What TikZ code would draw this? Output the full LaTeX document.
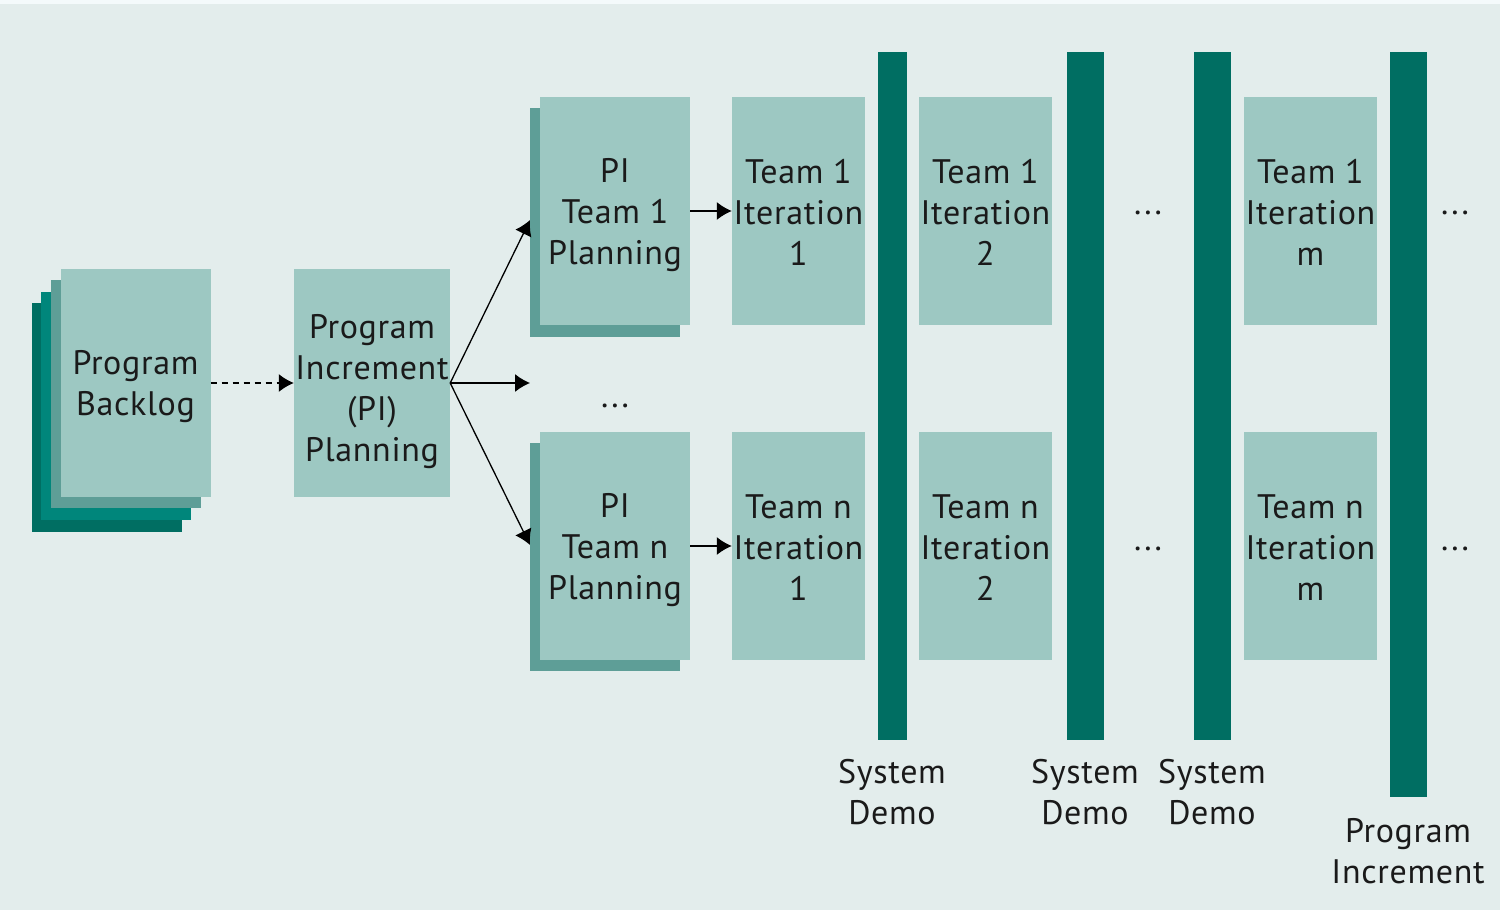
\documentclass[tikz,border=0pt]{standalone}
\usepackage{fontspec}
\setmainfont{PT Sans}[LetterSpace=2]
\usetikzlibrary{arrows.meta}
\definecolor{bgc}{HTML}{E3EDEC}
\definecolor{topc}{HTML}{F4FAFB}
\definecolor{boxc}{HTML}{9DC8C2}
\definecolor{shadc}{HTML}{5E9E97}
\definecolor{midc}{HTML}{00867B}
\definecolor{barc}{HTML}{006E62}
\definecolor{txtc}{HTML}{1A1A1A}
\newcommand{\ms}{\rule[-4.5pt]{0pt}{36.5pt}}
\newcommand{\mst}{\rule[-4.5pt]{0pt}{46.5pt}}
\tikzset{
  box/.style={fill=boxc, inner sep=0pt, align=center, text=txtc,
    font=\fontsize{34}{41}\selectfont},
  bar/.style={fill=barc, inner sep=0pt},
  lbl/.style={inner sep=0pt, align=center, text=txtc,
    font=\fontsize{34}{41}\selectfont},
  conn/.style={line width=1.3pt, -{Latex[length=15pt,width=18pt]}},
}
\begin{document}
\begin{tikzpicture}[x=1pt,y=-1pt]
\useasboundingbox (0,0) rectangle (1500,910);
\fill[topc] (0,0) rectangle (1500,4);
\fill[bgc] (0,4) rectangle (1500,910);
% program backlog stack
\fill[barc] (32,303) rectangle (182,532);
\fill[midc] (41,292) rectangle (191,520);
\fill[shadc] (51,280) rectangle (201,508);
\node[box, minimum width=150pt, minimum height=228pt] (pb) at (135.5,383) {\ms Program\\\ms Backlog};
% PI planning
\node[box, minimum width=156pt, minimum height=228pt] (pip) at (372,383) {\mst Program\\\ms Increment\\\ms (PI)\\\ms Planning};
% team planning
\fill[shadc] (530,108) rectangle (680,337);
\node[box, minimum width=150pt, minimum height=228pt] (p1) at (615,211) {\ms PI\\\ms Team 1\\\ms Planning};
\fill[shadc] (530,443) rectangle (680,671);
\node[box, minimum width=150pt, minimum height=228pt] (pn) at (615,546) {\ms PI\\\ms Team n\\\ms Planning};
% iterations
\node[box, minimum width=133pt, minimum height=228pt] (t11) at (798.5,211) {\ms Team 1\\\ms Iteration\\\ms 1};
\node[box, minimum width=133pt, minimum height=228pt] (t12) at (985.5,211) {\ms Team 1\\\ms Iteration\\\ms 2};
\node[box, minimum width=133pt, minimum height=228pt] (t1m) at (1310.5,211) {\ms Team 1\\\ms Iteration\\\ms m};
\node[box, minimum width=133pt, minimum height=228pt] (tn1) at (798.5,546) {\ms Team n\\\ms Iteration\\\ms 1};
\node[box, minimum width=133pt, minimum height=228pt] (tn2) at (985.5,546) {\ms Team n\\\ms Iteration\\\ms 2};
\node[box, minimum width=133pt, minimum height=228pt] (tnm) at (1310.5,546) {\ms Team n\\\ms Iteration\\\ms m};
% bars
\node[bar, minimum width=29pt, minimum height=688pt] (b1) at (892.5,396) {};
\node[bar, minimum width=37pt, minimum height=688pt] (b2) at (1085.5,396) {};
\node[bar, minimum width=37pt, minimum height=688pt] (b3) at (1212.5,396) {};
\node[bar, minimum width=37pt, minimum height=745pt] (b4) at (1408.5,424.5) {};
% labels
\node[lbl] (l1) at (892,790) {\ms System\\\ms Demo};
\node[lbl] (l2) at (1085,790) {\ms System\\\ms Demo};
\node[lbl] (l3) at (1212,790) {\ms System\\\ms Demo};
\node[lbl] (l4) at (1408,849) {\ms Program\\\ms Increment};
% dots
\node[lbl] (d0) at (615,394) {\ms...};
\node[lbl] (d1) at (1148,201) {\ms...};
\node[lbl] (d2) at (1148,537) {\ms...};
\node[lbl] (d3) at (1455,201) {\ms...};
\node[lbl] (d4) at (1455,537) {\ms...};
% arrow endpoints
\coordinate (e1) at (530,220);
\coordinate (e0) at (530,383);
\coordinate (en) at (530,545);
% connectors
\draw[conn, dashed, dash pattern=on 6pt off 5pt] (pb.east) -- (pip.west);
\draw[conn] (pip.east) -- (e1);
\draw[conn] (pip.east) -- (e0);
\draw[conn] (pip.east) -- (en);
\draw[conn] (p1.east) -- (t11.west);
\draw[conn] (pn.east) -- (tn1.west);
\end{tikzpicture}
\end{document}
